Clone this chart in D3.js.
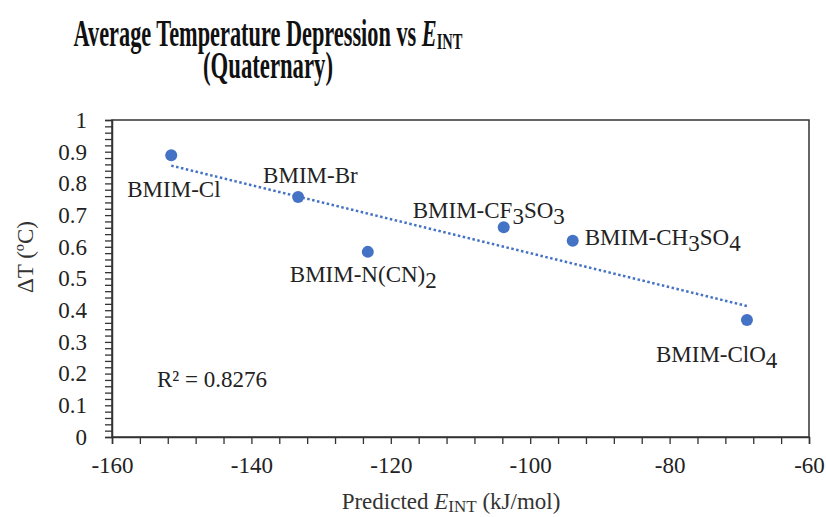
<!DOCTYPE html>
<html>
<head>
<meta charset="utf-8">
<script src="https://cdn.jsdelivr.net/npm/d3@7"></script>
<style>
  html, body { margin: 0; padding: 0; background: #fff; }
  svg { display: block; }
  text { font-family: "Liberation Serif", "Times New Roman", serif; fill: #222; }
</style>
</head>
<body>
<svg id="chart" width="826" height="517"></svg>
<script>
// Ionic liquids: predicted interaction energy (kJ/mol) vs average temperature depression (°C)
const names = ["BMIM-Cl", "BMIM-Br", "BMIM-N(CN)2", "BMIM-CF3SO3", "BMIM-CH3SO4", "BMIM-ClO4"];
const eint = [-151.5, -133.3, -123.3, -103.8, -93.9, -68.9];
const deltaT = [0.889, 0.757, 0.584, 0.662, 0.619, 0.369];
const rSquaredText = "R² = 0.8276";

const xTickValues = d3.range(-160, -60 + 0.001, 4);
const xLabelValues = [-160, -140, -120, -100, -80, -60];
const yTickValues = d3.range(0, 1 + 0.0001, 0.02).map(v => +v.toFixed(2));
const yLabelValues = [0, 0.1, 0.2, 0.3, 0.4, 0.5, 0.6, 0.7, 0.8, 0.9, 1];

// Label layout: [dx, dy] from the point
const labelOffsets = [
  [-44, 42],
  [-35, -14],
  [-78, 30],
  [-91, -9],
  [12, 4],
  [-91, 42]
];

const svg = d3.select("#chart");
const plot = { left: 112, right: 809, top: 120, bottom: 437 };
const blue = "#4472C4";
const fontSize = "23px";

const x = d3.scaleLinear().domain([-160, -60]).range([plot.left, plot.right]);
const y = d3.scaleLinear().domain([0, 1]).range([plot.bottom, plot.top]);

// Title: condensed bold serif, two centred lines
function titleLine(yPos, width, build) {
  const g = svg.append("g");
  const t = g.append("text")
    .attr("x", 0).attr("y", yPos)
    .attr("text-anchor", "middle")
    .style("font-size", "37px").style("font-weight", "bold").style("fill", "#111");
  build(t);
  const w = t.node().getBBox().width;
  g.attr("transform", `translate(268,0) scale(${width / w},1)`);
}
titleLine(46, 389, t => {
  t.append("tspan").text("Average Temperature Depression vs ");
  t.append("tspan").style("font-style", "italic").text("E");
  t.append("tspan").attr("dy", 3).style("font-size", "24px").text("INT");
});
titleLine(78, 130, t => t.text("(Quaternary)"));

// Plot frame
svg.append("rect")
  .attr("x", plot.left).attr("y", plot.top)
  .attr("width", plot.right - plot.left).attr("height", plot.bottom - plot.top)
  .attr("fill", "none").attr("stroke", "#333").attr("stroke-width", 1.5);

// Axes
const xAxis = d3.axisBottom(x)
  .tickValues(xTickValues)
  .tickSize(7)
  .tickPadding(13)
  .tickFormat(d => xLabelValues.includes(d) ? String(d) : "");

const gx = svg.append("g")
  .attr("transform", `translate(0,${plot.bottom})`)
  .call(xAxis);

const yAxis = d3.axisLeft(y)
  .tickValues(yTickValues)
  .tickSize(7)
  .tickPadding(18)
  .tickFormat(d => yLabelValues.some(v => Math.abs(v - d) < 1e-6) ? String(+d.toFixed(1)) : "");

const gy = svg.append("g")
  .attr("transform", `translate(${plot.left},0)`)
  .call(yAxis);

[gx, gy].forEach(g => {
  g.select(".domain").attr("stroke", "#333").attr("stroke-width", 1.5);
  g.selectAll(".tick line").attr("stroke", "#333").attr("stroke-width", 1.3);
  g.selectAll(".tick text")
    .style("font-family", "'Liberation Serif', 'Times New Roman', serif")
    .style("font-size", fontSize).attr("fill", "#333");
});

// Axis titles
const xTitle = svg.append("text")
  .attr("x", 451).attr("y", 509)
  .attr("text-anchor", "middle")
  .style("font-size", fontSize).style("fill", "#333");
xTitle.append("tspan").text("Predicted ");
xTitle.append("tspan").style("font-style", "italic").text("E");
xTitle.append("tspan").attr("dy", 3).style("font-size", "17px").text("INT");
xTitle.append("tspan").attr("dy", -3).text(" (kJ/mol)");

svg.append("text")
  .attr("transform", "translate(33,257) rotate(-90)")
  .attr("text-anchor", "middle")
  .style("font-size", fontSize).style("fill", "#333")
  .text("ΔT (ºC)");

// Linear trendline (least squares)
const n = eint.length;
const mx = d3.mean(eint), my = d3.mean(deltaT);
let sxy = 0, sxx = 0;
for (let i = 0; i < n; i++) {
  sxy += (eint[i] - mx) * (deltaT[i] - my);
  sxx += (eint[i] - mx) ** 2;
}
const slope = sxy / sxx;
const intercept = my - slope * mx;
const xExt = d3.extent(eint);

svg.append("path")
  .datum(xExt.map(v => [v, intercept + slope * v]))
  .attr("d", d3.line().x(d => x(d[0])).y(d => y(d[1])))
  .attr("fill", "none")
  .attr("stroke", blue)
  .attr("stroke-width", 2.5)
  .attr("stroke-dasharray", "2.5,2.5");

// Points
const pts = eint.map((v, i) => ({ x: v, y: deltaT[i], name: names[i], off: labelOffsets[i] }));

svg.append("g").selectAll("circle")
  .data(pts).join("circle")
  .attr("cx", d => x(d.x)).attr("cy", d => y(d.y))
  .attr("r", 6).attr("fill", blue);

// Data labels with subscripted digits
const lbl = svg.append("g").selectAll("text")
  .data(pts).join("text")
  .attr("x", d => x(d.x) + d.off[0])
  .attr("y", d => y(d.y) + d.off[1])
  .style("font-size", fontSize).style("fill", "#222");

lbl.each(function(d) {
  const t = d3.select(this);
  const parts = d.name.split(/(\d)/).filter(s => s.length);
  let low = false;
  parts.forEach(p => {
    const isDigit = /\d/.test(p);
    const sp = t.append("tspan").text(p);
    if (isDigit && !low) { sp.attr("dy", 6); low = true; }
    else if (!isDigit && low) { sp.attr("dy", -6); low = false; }
  });
});

// R² annotation
svg.append("text")
  .attr("x", 157).attr("y", 387)
  .style("font-size", fontSize).style("fill", "#222")
  .text(rSquaredText);
</script>
</body>
</html>
